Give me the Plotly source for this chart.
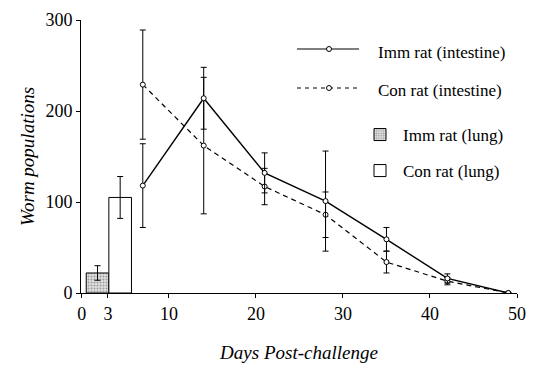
import plotly.graph_objects as go

# ---- data ----
days = [7, 14, 21, 28, 35, 42, 49]
imm_int = [118, 214, 132, 101, 59, 16, 0]
imm_int_err = [46, 34, 22, 55, 13, 5, 0]
con_int = [229, 162, 117, 86, 34, 13, 0]
con_int_err = [60, 75, 20, 25, 12, 4, 0]

lung_x = [1.8, 4.4]
lung_vals = [22, 105]
lung_err = [8, 23]
lung_names = ["Imm rat (lung)", "Con rat (lung)"]

x_ticks = [0, 3, 10, 20, 30, 40, 50]
y_ticks = [0, 100, 200, 300]

FONT = "Liberation Serif"

fig = go.Figure()

# lung bars
fig.add_trace(go.Bar(
    x=[lung_x[0]], y=[lung_vals[0]], width=2.6, name=lung_names[0],
    marker=dict(color="#d8d8d8", line=dict(color="black", width=1),
                pattern=dict(shape=".", fgcolor="#555555", bgcolor="#e0e0e0", size=3, solidity=0.35)),
    error_y=dict(type="data", array=[lung_err[0]], color="black", thickness=1, width=3),
    legend="legend2", showlegend=True,
))
fig.add_trace(go.Bar(
    x=[lung_x[1]], y=[lung_vals[1]], width=2.6, name=lung_names[1],
    marker=dict(color="white", line=dict(color="black", width=1)),
    error_y=dict(type="data", array=[lung_err[1]], color="black", thickness=1, width=3),
    legend="legend3", showlegend=True,
))

# intestine lines
fig.add_trace(go.Scatter(
    x=days, y=con_int, mode="lines+markers", name="Con rat (intestine)",
    line=dict(color="black", width=1.2, dash="5px,4px"),
    marker=dict(symbol="circle", size=5, color="white", line=dict(color="black", width=1)),
    error_y=dict(type="data", array=con_int_err, color="black", thickness=1, width=3),
    showlegend=False,
))
fig.add_trace(go.Scatter(
    x=days, y=imm_int, mode="lines+markers", name="Imm rat (intestine)",
    line=dict(color="black", width=1.4),
    marker=dict(symbol="circle", size=5, color="white", line=dict(color="black", width=1)),
    error_y=dict(type="data", array=imm_int_err, color="black", thickness=1, width=3),
    showlegend=False,
))

# plot area in screen pixels (page has an 8px body margin)
OFF = 8
L = 81; R = 517; T = 20; B = 293
def px(x): return (x - L) / (R - L)
def py(y): return 1 - (y - T) / (B - T)

shapes = []
annotations = []
for yy, dash, label, ty in [(49, "solid", "Imm rat (intestine)", 52), (88, "dash", "Con rat (intestine)", 90)]:
    shapes.append(dict(type="line", xref="paper", yref="paper",
                       x0=px(297), x1=px(359), y0=py(yy), y1=py(yy),
                       line=dict(color="black", width=1.2, dash=dash if dash == "solid" else "4px,4px")))
    shapes.append(dict(type="circle", xref="paper", yref="paper",
                       x0=px(326.5), x1=px(331.5), y0=py(yy + 2.5), y1=py(yy - 2.5),
                       fillcolor="white", line=dict(color="black", width=1)))
    annotations.append(dict(xref="paper", yref="paper", x=px(376), y=py(ty), text=label,
                            showarrow=False, xanchor="left", yanchor="middle",
                            font=dict(family=FONT, size=17, color="black")))

fig.update_layout(
    width=535, height=366,
    margin=dict(l=L - OFF, r=535 - (R - OFF), t=T - OFF, b=366 - (B - OFF)),
    paper_bgcolor="white", plot_bgcolor="white",
    font=dict(family=FONT, size=18, color="black"),
    barmode="overlay",
    shapes=shapes, annotations=annotations,
    legend2=dict(x=px(357), y=py(117), xanchor="left", yanchor="top",
                 font=dict(family=FONT, size=17), bgcolor="rgba(0,0,0,0)", itemwidth=36),
    legend3=dict(x=px(357), y=py(153), xanchor="left", yanchor="top",
                 font=dict(family=FONT, size=17), bgcolor="rgba(0,0,0,0)", itemwidth=36),
    xaxis=dict(range=[-0.1, 50], tickvals=x_ticks, ticktext=[str(v) for v in x_ticks],
               showline=True, linecolor="black", linewidth=1, ticks="outside", ticklen=4,
               tickcolor="black", showgrid=False, zeroline=False, automargin=False,
               title=dict(text="<i>Days Post-challenge</i>", font=dict(family=FONT, size=19), standoff=23)),
    yaxis=dict(range=[0, 300], tickvals=y_ticks, showline=True, linecolor="black", linewidth=1,
               ticks="outside", ticklen=4, tickcolor="black", showgrid=False, zeroline=False,
               automargin=False,
               title=dict(text="<i>Worm populations</i>", font=dict(family=FONT, size=19), standoff=5)),
)

fig.write_html("out.html")
